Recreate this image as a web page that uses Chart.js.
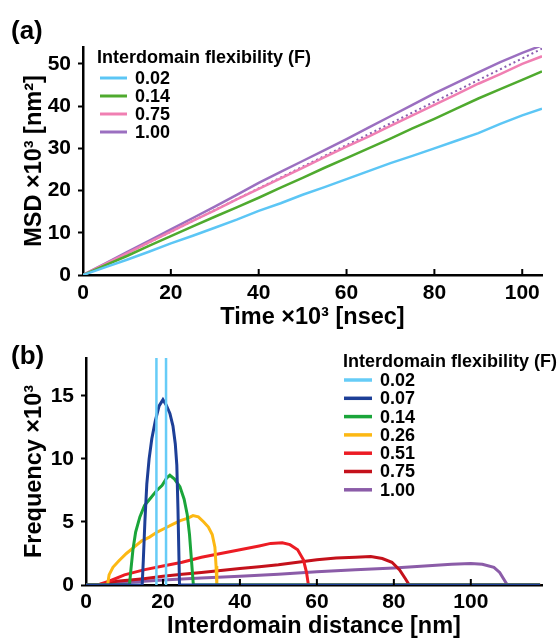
<!DOCTYPE html>
<html>
<head>
<meta charset="utf-8">
<script src="https://cdn.jsdelivr.net/npm/chart.js@4/dist/chart.umd.min.js"></script>
<style>
  html, body { margin: 0; padding: 0; background: #fff; }
  body { width: 558px; height: 638px; position: relative; overflow: hidden; font-family: "Liberation Sans", Arial, sans-serif; }
  .wrap { position: absolute; left: 0; }
  .panel { position: absolute; left: 11px; font-weight: bold; font-size: 26px; color: #000; }
</style>
</head>
<body>
<div class="wrap" style="top:0"><canvas id="ca" width="558" height="335"></canvas></div>
<div class="wrap" style="top:335px"><canvas id="cb" width="558" height="306"></canvas></div>
<div class="panel" style="top:15px">(a)</div>
<div class="panel" style="top:340px">(b)</div>
<script>
// ---------- Panel (a): MSD vs time ----------
const timeA = [0, 5, 10, 15, 20, 25, 30, 35, 40, 45, 50, 55, 60, 65, 70, 75, 80, 85, 90, 95, 100, 104.5];
const msd002 = [0, 1.8, 3.6, 5.5, 7.5, 9.3, 11.2, 13.1, 15.2, 17.0, 19.0, 20.8, 22.7, 24.6, 26.5, 28.2, 30.0, 31.8, 33.6, 35.8, 37.8, 39.4];
const msd014 = [0, 2.3, 4.5, 6.9, 9.2, 11.5, 13.8, 16.0, 18.3, 20.7, 23.0, 25.4, 27.7, 30.0, 32.3, 34.7, 37.0, 39.4, 41.8, 44.0, 46.2, 48.2];
const msd075 = [0, 2.6, 5.1, 7.7, 10.3, 12.8, 15.3, 17.9, 20.4, 22.9, 25.4, 27.9, 30.4, 32.8, 35.3, 37.8, 40.3, 42.8, 45.3, 47.6, 50.0, 51.8];
const msd100 = [0, 2.7, 5.4, 8.1, 10.8, 13.5, 16.2, 19.0, 21.8, 24.4, 27.0, 29.6, 32.2, 34.9, 37.6, 40.3, 43.0, 45.5, 48.0, 50.4, 52.6, 54.4];
const fitX = [0, 104.5];
const fitY = [0, 53.6];
const labelsA = ["0.02", "0.14", "0.75", "1.00"];
const xTicksA = [0, 20, 40, 60, 80, 100];
const yTicksA = [0, 10, 20, 30, 40, 50];

// ---------- Panel (b): distance histogram ----------
const labelsB = ["0.02", "0.07", "0.14", "0.26", "0.51", "0.75", "1.00"];
const d002x = [18.3, 18.3, 20.8, 20.8];
const d002y = [0, 30, 30, 0];
const d007x = [0, 14.6, 14.9, 15.3, 15.8, 16.4, 17.1, 18.0, 19.0, 20.0, 20.8, 21.8, 22.6, 23.2, 23.6, 23.9, 24.1, 24.3, 118];
const d007y = [0, 0, 2, 5, 8, 10, 11.6, 13.0, 14.2, 14.7, 14.3, 13.6, 12.6, 11.2, 9.5, 6, 3, 0, 0];
const d014x = [0, 11.3, 11.6, 12.2, 12.9, 14.0, 15.2, 16.8, 18.4, 19.8, 21.0, 21.8, 23.0, 24.4, 25.5, 26.3, 26.9, 27.4, 27.9, 118];
const d014y = [0, 0, 1.0, 2.8, 4.2, 5.4, 6.3, 6.9, 7.5, 7.9, 8.5, 8.7, 8.4, 7.8, 6.8, 5.6, 4.0, 2.0, 0, 0];
const d026x = [0, 5.6, 6.0, 7.0, 8.5, 10.5, 12.5, 14.5, 16.5, 18.5, 20.5, 22.5, 24.5, 26.5, 27.8, 29.2, 30.6, 31.8, 32.8, 33.5, 33.8, 34.0, 118];
const d026y = [0, 0, 0.8, 1.4, 1.9, 2.5, 3.0, 3.5, 3.8, 4.2, 4.5, 4.8, 5.1, 5.3, 5.5, 5.4, 5.0, 4.6, 4.0, 3.0, 1.5, 0, 0];
const d051x = [0, 3, 6, 10, 15, 20, 25, 30, 35, 40, 45, 48, 51, 53, 55, 56.5, 57.3, 57.8, 118];
const d051y = [0, 0, 0.3, 0.8, 1.2, 1.5, 1.8, 2.2, 2.5, 2.8, 3.1, 3.3, 3.35, 3.2, 2.8, 2.0, 1.0, 0, 0];
const d075x = [0, 3, 8, 15, 20, 25, 30, 35, 40, 45, 50, 55, 60, 65, 70, 74, 77, 79.5, 81.5, 83, 84, 118];
const d075y = [0, 0, 0.3, 0.5, 0.7, 0.85, 1.0, 1.15, 1.3, 1.45, 1.6, 1.8, 2.0, 2.15, 2.2, 2.25, 2.1, 1.8, 1.2, 0.5, 0, 0];
const d100x = [0, 2.5, 10, 20, 30, 40, 50, 60, 70, 80, 90, 95, 100, 103, 106, 107.5, 108.5, 109.5, 118];
const d100y = [0, 0, 0.2, 0.4, 0.55, 0.7, 0.85, 1.05, 1.2, 1.35, 1.55, 1.65, 1.7, 1.65, 1.4, 1.0, 0.5, 0, 0];
const xTicksB = [0, 20, 40, 60, 80, 100];
const yTicksB = [0, 5, 10, 15];

const FONT = '"Liberation Sans", Arial, Helvetica, sans-serif';
const pts = (xs, ys) => xs.map((x, i) => ({ x: x, y: ys[i] }));

// custom legend drawn inside the chart area + inward x ticks
const extras = {
  id: 'extras',
  afterDraw(chart, args, opts) {
    const ctx = chart.ctx;
    ctx.save();
    const xs = chart.scales.x;
    ctx.strokeStyle = '#000';
    ctx.lineWidth = 2;
    xs.ticks.forEach(t => {
      const px = xs.getPixelForValue(t.value);
      if (t.value === xs.min) return;
      ctx.beginPath();
      ctx.moveTo(px, chart.chartArea.bottom);
      ctx.lineTo(px, chart.chartArea.bottom - 6);
      ctx.stroke();
    });
    const L = opts;
    ctx.fillStyle = '#000';
    ctx.textBaseline = 'middle';
    ctx.textAlign = 'left';
    ctx.font = 'bold ' + L.size + 'px ' + FONT;
    ctx.fillText(L.title, L.x, L.y);
    let k = 0;
    chart.data.datasets.forEach(ds => {
      if (!ds.label) return;
      const y = L.y0 + k * L.dy;
      ctx.strokeStyle = ds.borderColor;
      ctx.lineWidth = L.lw;
      ctx.beginPath();
      ctx.moveTo(L.lx0, y);
      ctx.lineTo(L.lx1, y);
      ctx.stroke();
      ctx.fillStyle = '#000';
      ctx.fillText(ds.label, L.tx, y + 1);
      k++;
    });
    ctx.restore();
  }
};

function axisCommon(ticksArr, min, max, title, fixed, isX, tpad, titlePad) {
  return {
    type: 'linear',
    min: min, max: max,
    afterBuildTicks: s => { s.ticks = ticksArr.map(v => ({ value: v })); },
    afterFit: s => { if (isX) s.height = fixed; else s.width = fixed; },
    border: { display: true, color: '#000', width: 2.5 },
    grid: isX ? { display: true, drawOnChartArea: false, drawTicks: false } :
                { display: true, drawOnChartArea: false, drawTicks: true, tickLength: 5, tickWidth: 2, tickColor: '#000', color: '#000' },
    ticks: { color: '#000', padding: tpad, font: { family: FONT, size: 21, weight: 'bold' } },
    title: { display: true, text: title, color: '#000', padding: titlePad, font: { family: FONT, size: 23.5, weight: 'bold' } }
  };
}

Chart.defaults.font.family = FONT;

new Chart(document.getElementById('ca'), {
  type: 'line',
  data: {
    datasets: [
      { label: null, data: pts(fitX, fitY), borderColor: '#8a5db0', borderWidth: 2, borderDash: [2, 3] },
      { label: labelsA[3], data: pts(timeA, msd100), borderColor: '#9b6fc0', borderWidth: 2.5 },
      { label: labelsA[2], data: pts(timeA, msd075), borderColor: '#f07fb2', borderWidth: 2.5 },
      { label: labelsA[1], data: pts(timeA, msd014), borderColor: '#4faa2e', borderWidth: 2.5 },
      { label: labelsA[0], data: pts(timeA, msd002), borderColor: '#5cc6f5', borderWidth: 2.5 }
    ].reverse()
  },
  options: {
    responsive: false,
    animation: false,
    devicePixelRatio: 1,
    elements: { point: { radius: 0 }, line: { tension: 0 } },
    layout: { padding: { left: 0, right: 16, top: 47, bottom: 0 } },
    plugins: {
      legend: { display: false }, tooltip: { enabled: false },
      extras: { title: 'Interdomain flexibility (F)', x: 97, y: 58, y0: 78, dy: 18, lx0: 100, lx1: 127, tx: 135, size: 18, lw: 3 }
    },
    scales: {
      x: axisCommon(xTicksA, 0, 104.5, 'Time ×10³ [nsec]', 60, true, 6, { top: 0, bottom: 3 }),
      y: axisCommon(yTicksA, 0, 54, 'MSD ×10³ [nm²]', 83, false, 7, { top: 20, bottom: 0 })
    }
  },
  plugins: [extras]
});

new Chart(document.getElementById('cb'), {
  type: 'line',
  data: {
    datasets: [
      { label: labelsB[0], data: pts(d002x, d002y), borderColor: '#66ccf7', borderWidth: 2.5 },
      { label: labelsB[1], data: pts(d007x, d007y), borderColor: '#1d3f97', borderWidth: 3 },
      { label: labelsB[2], data: pts(d014x, d014y), borderColor: '#1aa53a', borderWidth: 3 },
      { label: labelsB[3], data: pts(d026x, d026y), borderColor: '#fcb813', borderWidth: 3 },
      { label: labelsB[4], data: pts(d051x, d051y), borderColor: '#ec1c24', borderWidth: 3 },
      { label: labelsB[5], data: pts(d075x, d075y), borderColor: '#c4111b', borderWidth: 3 },
      { label: labelsB[6], data: pts(d100x, d100y), borderColor: '#8b5ca8', borderWidth: 3 }
    ]
  },
  options: {
    responsive: false,
    animation: false,
    devicePixelRatio: 1,
    elements: { point: { radius: 0 }, line: { tension: 0 } },
    layout: { padding: { left: 0, right: 16, top: 23, bottom: 0 } },
    plugins: {
      legend: { display: false }, tooltip: { enabled: false },
      extras: { title: 'Interdomain flexibility (F)', x: 343, y: 27, y0: 45, dy: 18.3, lx0: 344, lx1: 372, tx: 380, size: 18, lw: 3.5 }
    },
    scales: {
      x: axisCommon(xTicksB, 0, 118.5, 'Interdomain distance [nm]', 56, true, 5, { top: 0, bottom: 0 }),
      y: axisCommon(yTicksB, 0, 18, 'Frequency ×10³', 86, false, 7, { top: 20, bottom: 0 })
    }
  },
  plugins: [extras]
});
</script>
</body>
</html>
